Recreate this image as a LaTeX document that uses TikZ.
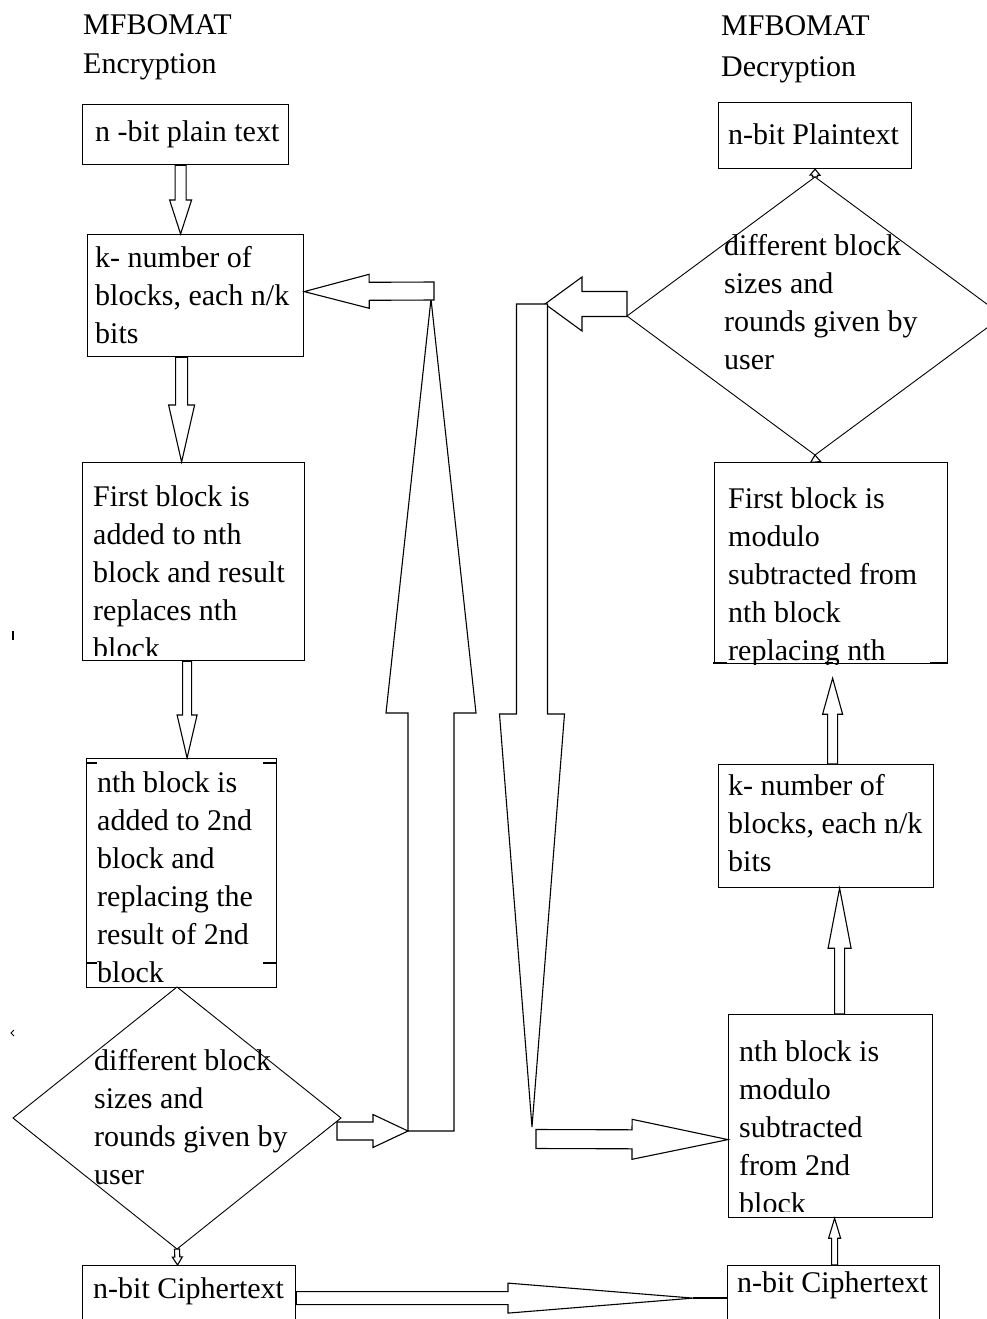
\documentclass[tikz,border=0pt]{standalone}
\usepackage{fontspec}
\setmainfont{Liberation Serif}
\usetikzlibrary{shapes.geometric,calc}

% strut that fixes the top of the first line of a paragraph node
\newcommand{\firstline}{\rule{0pt}{22pt}}

% hollow block arrow: from, to, shaft half width, head half width, head length (pt)
\newcommand{\barrow}[5]{%
  \path[blockarrow] let \p1=(#1), \p2=(#2),
      \n1={atan2(\y2-\y1,\x2-\x1)}, \n2={veclen(\x2-\x1,\y2-\y1)} in
    ([shift={(\p1)},rotate=\n1]0pt,#3pt)
    -- ([shift={(\p1)},rotate=\n1]\n2-#5pt,#3pt)
    -- ([shift={(\p1)},rotate=\n1]\n2-#5pt,#4pt)
    -- ([shift={(\p1)},rotate=\n1]\n2,0pt)
    -- ([shift={(\p1)},rotate=\n1]\n2-#5pt,-#4pt)
    -- ([shift={(\p1)},rotate=\n1]\n2-#5pt,-#3pt)
    -- ([shift={(\p1)},rotate=\n1]0pt,-#3pt) -- cycle;}

\tikzset{
  every node/.style={font=\fontsize{30}{38}\selectfont},
  box/.style={draw, line width=1.2pt, fill=white, inner sep=0pt, anchor=north west},
  decision/.style={diamond, draw, line width=0.9pt, inner sep=0pt, outer sep=0pt},
  txt/.style={inner sep=0pt, anchor=base west},
  para/.style={inner sep=0pt, anchor=north west, align=left},
  blockarrow/.style={draw, fill=white, line width=1.1pt, line join=miter},
  handle/.style={line width=2.6pt},
  tick/.style={line width=1.1pt},
}

\begin{document}
\begin{tikzpicture}[x=1pt, y=-1pt]
\path[use as bounding box] (0,0) rectangle (987,1319);
\fill[white] (0,0) rectangle (987,1319);
\clip (0,0) rectangle (987,1319);

% ---------- headings ----------
\node[txt] (h1) at (83,35) {MFBOMAT};
\node[txt] (h2) at (83,74) {Encryption};
\node[txt] (h3) at (721,36) {MFBOMAT};
\node[txt] (h4) at (721,77) {Decryption};

% ---------- encryption column ----------
\node[box, minimum width=206pt, minimum height=60pt]  (b1) at (82,104) {};
\node[box, minimum width=216pt, minimum height=122pt] (b2) at (87,234) {};
\node[box, minimum width=222pt, minimum height=198pt] (b3) at (82,462) {};
\node[box, minimum width=190pt, minimum height=229pt] (b4) at (86,758) {};
\node[decision, minimum width=328pt, minimum height=262pt] (d1) at (177,1118) {};
\node[box, minimum width=213pt, minimum height=65pt]  (b5) at (82,1265) {};

\node[txt] (t1) at (95,142) {n -bit plain text};
\node[para] (t2) at (95,245) {\firstline k- number of\\blocks, each n/k\\bits};
\begin{scope}
  \clip (b3.north west) rectangle ([yshift=6pt]b3.south east);
  \node[para] (t3) at (93,484) {\firstline First block is\\added to nth\\block and result\\replaces nth\\block};
\end{scope}
\begin{scope}
  \clip (b4.north west) rectangle (b4.south east);
  \node[para] (t4) at (97,770) {\firstline nth block is\\added to 2nd\\block and\\replacing the\\result of 2nd\\block};
\end{scope}
\node[para] (td1) at (94,1048) {\firstline different block\\sizes and\\rounds given by\\user};
\node[txt] (t5) at (93,1298) {n-bit Ciphertext};

% small marks on the frame of the second step
\draw[tick] (87,763) -- (97,763);
\draw[tick] (263,763) -- (276,763);
\draw[tick] (87,963) -- (97,963);
\draw[tick] (263,963) -- (276,963);
\draw[tick] (13,631) -- (13,640);
\draw[line width=0.8pt] (14,1030) -- (11,1033) -- (14,1036);

% ---------- decryption column ----------
\node[box, minimum width=193pt, minimum height=66pt]  (b6) at (718,102) {};
\node[decision, minimum width=376pt, minimum height=278pt] (d2) at (815,316) {};
\node[box, minimum width=233pt, minimum height=201pt] (b7) at (714,462) {};
\node[box, minimum width=215pt, minimum height=123pt] (b8) at (718,764) {};
\node[box, minimum width=204pt, minimum height=203pt] (b9) at (728,1014) {};
\node[box, minimum width=212pt, minimum height=65pt]  (b10) at (727,1265) {};

\node[txt] (t6) at (728,145) {n-bit Plaintext};
\node[para] (td2) at (724,233) {\firstline different block\\sizes and\\rounds given by\\user};
\begin{scope}
  \clip (b7.north west) rectangle (b7.south east);
  \node[para] (t7) at (728,486) {\firstline First block is\\modulo\\subtracted from\\nth block\\replacing nth};
\end{scope}
\node[para] (t8) at (728,773) {\firstline k- number of\\blocks, each n/k\\bits};
\begin{scope}
  \clip (b9.north west) rectangle ([yshift=7pt]b9.south east);
  \node[para] (t9) at (739,1039) {\firstline nth block is\\modulo\\subtracted\\from 2nd\\block};
\end{scope}
\node[txt] (t10) at (737,1292) {n-bit Ciphertext};

% handles on the frame of the first decryption step
\draw[handle] (713,663) -- (727,663);
\draw[handle] (825,663) -- (833,663);
\draw[handle] (930,663) -- (947,663);

% ---------- bends of the long feedback arrows ----------
\coordinate (upfoot) at (431,1131);
\coordinate (uptip)  at (431,299);
\coordinate (upturn) at (434,291);
\coordinate (dntop)  at (532,304);
\coordinate (dnfoot) at (536,1139);

% ---------- encryption arrows ----------
\barrow{[xshift=-5pt]b1.south}{[xshift=-15pt]b2.north}{5.5}{11}{34}
\barrow{[xshift=-14pt]b2.south}{[xshift=-12pt]b3.north}{6}{13}{57}
\barrow{[xshift=-6.5pt]b3.south}{[xshift=5.5pt]b4.north}{4.5}{10}{43}
\barrow{d1.south}{[xshift=-11.5pt]b5.north}{2.5}{5}{8}
\barrow{[shift={(-4pt,-13pt)}]d1.east}{[xshift=-23pt]upfoot}{9}{16.5}{35}
\barrow{upfoot}{uptip}{23}{45}{414}
\barrow{upturn}{[yshift=4pt]b2.east}{9}{17}{65}

% ---------- decryption arrows ----------
\barrow{[yshift=12pt]d2.west}{[xshift=13pt]dntop}{12.5}{27}{37}
\barrow{dntop}{[shift={(-4pt,12pt)}]dnfoot}{15.5}{32.5}{413}
\barrow{dnfoot}{[yshift=-23.5pt]b9.west}{9.5}{20}{96}
\barrow{[xshift=1pt]b10.north}{[xshift=4pt]b9.south}{3}{6}{20}
\barrow{[xshift=9pt]b9.north}{[xshift=13.5pt]b8.south}{5}{11.5}{60}
\barrow{[xshift=6.5pt]b8.north}{[shift={(1.5pt,-14pt)}]b7.south}{5}{10}{36}
\barrow{[xshift=-15.5pt]b7.north}{d2.south}{2.5}{5}{7}
\barrow{d2.north}{b6.south}{2.5}{5}{6}

% ---------- ciphertext handed over ----------
\barrow{b5.east}{[xshift=-34pt]b10.west}{6.5}{15}{185}
\draw[line width=2pt] ([xshift=-34pt]b10.west) -- (b10.west);
\end{tikzpicture}
\end{document}
